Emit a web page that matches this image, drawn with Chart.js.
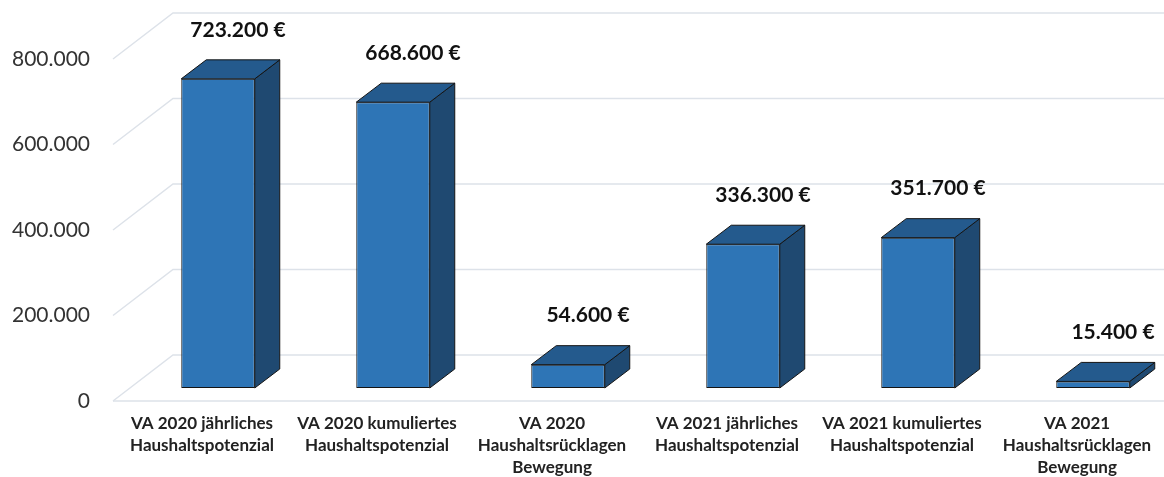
<!DOCTYPE html>
<html lang="de">
<head>
  <meta charset="UTF-8">
  <title>Haushaltspotenzial</title>
  <script src="https://cdn.jsdelivr.net/npm/chart.js"></script>
  <style>
    * { box-sizing: border-box; }
    body { margin: 0; padding: 0; background: #ffffff; }
    #wrap { width: 1164px; height: 477px; }
  </style>
</head>
<body>
  <div id="wrap"><canvas id="chart" width="1164" height="477"></canvas></div>

  <script>
    // Daten
    const kategorien = [
      ['VA 2020 jährliches', 'Haushaltspotenzial'],
      ['VA 2020 kumuliertes', 'Haushaltspotenzial'],
      ['VA 2020', 'Haushaltsrücklagen', 'Bewegung'],
      ['VA 2021 jährliches', 'Haushaltspotenzial'],
      ['VA 2021 kumuliertes', 'Haushaltspotenzial'],
      ['VA 2021', 'Haushaltsrücklagen', 'Bewegung']
    ];
    const werte = [723200, 668600, 54600, 336300, 351700, 15400];
    const yTicks = [0, 200000, 400000, 600000, 800000];

    function tausender(n) {
      return String(n).replace(/\B(?=(\d{3})+(?!\d))/g, '.');
    }

    // 3D-Optik: Tiefe der Säulen und des Bodens
    const tiefe = { dx: 25, dy: -19 };
    const boden = { vorne: 13, hinten: -33, xVorne: 113, xHinten: 173 };
    const farben = { front: '#2e75b6', oben: '#245a8d', seite: '#1f4971', rand: '#141414', gitter: '#dde2e9' };

    const gitterPlugin = {
      id: 'gitter3d',
      beforeDatasetsDraw(chart) {
        const ctx = chart.ctx;
        const y = chart.scales.y;
        ctx.save();
        ctx.strokeStyle = farben.gitter;
        ctx.lineWidth = 1.5;
        yTicks.forEach(v => {
          const p = y.getPixelForValue(v);
          ctx.beginPath();
          ctx.moveTo(boden.xVorne, p + boden.vorne);
          ctx.lineTo(boden.xHinten, p + boden.hinten);
          ctx.lineTo(chart.width, p + boden.hinten);
          ctx.stroke();
          if (v === 0) {
            ctx.beginPath();
            ctx.moveTo(boden.xVorne, p + boden.vorne);
            ctx.lineTo(chart.width, p + boden.vorne);
            ctx.stroke();
          }
        });
        ctx.restore();
      },
      afterDatasetsDraw(chart) {
        const ctx = chart.ctx;
        const meta = chart.getDatasetMeta(0);
        ctx.save();
        ctx.lineWidth = 1;
        ctx.strokeStyle = farben.rand;
        ctx.lineJoin = 'round';
        meta.data.forEach((bar, i) => {
          const p = bar.getProps(['x', 'y', 'base', 'width'], true);
          const l = p.x - p.width / 2, r = p.x + p.width / 2;
          // Seite
          ctx.beginPath();
          ctx.moveTo(r, p.y);
          ctx.lineTo(r + tiefe.dx, p.y + tiefe.dy);
          ctx.lineTo(r + tiefe.dx, p.base + tiefe.dy);
          ctx.lineTo(r, p.base);
          ctx.closePath();
          ctx.fillStyle = farben.seite;
          ctx.fill();
          ctx.stroke();
          // Deckel
          ctx.beginPath();
          ctx.moveTo(l, p.y);
          ctx.lineTo(l + tiefe.dx, p.y + tiefe.dy);
          ctx.lineTo(r + tiefe.dx, p.y + tiefe.dy);
          ctx.lineTo(r, p.y);
          ctx.closePath();
          ctx.fillStyle = farben.oben;
          ctx.fill();
          ctx.stroke();
          // Wertbeschriftung
          ctx.fillStyle = '#111111';
          ctx.font = 'bold 21px Lato';
          ctx.textAlign = 'center';
          ctx.textBaseline = 'middle';
          ctx.fillText(tausender(werte[i]) + ' €', p.x + 20, p.y - 49);
        });
        ctx.restore();
      }
    };

    new Chart(document.getElementById('chart'), {
      type: 'bar',
      data: {
        labels: kategorien,
        datasets: [{
          data: werte,
          backgroundColor: farben.front,
          borderColor: farben.rand,
          borderWidth: 1,
          borderSkipped: false,
          barPercentage: 0.42,
          categoryPercentage: 1,
          clip: false
        }]
      },
      options: {
        responsive: false,
        animation: false,
        events: [],
        layout: { padding: { top: 46, right: 71, bottom: 0, left: 0 } },
        plugins: { legend: { display: false }, tooltip: { enabled: false } },
        scales: {
          x: {
            offset: false,
            grid: { display: false, drawTicks: false },
            border: { display: false },
            ticks: {
              autoSkip: false,
              maxRotation: 0,
              labelOffset: -16,
              padding: 24,
              color: '#222222',
              font: { family: 'Lato', size: 17, weight: 'bold', lineHeight: 1.3 }
            },
            afterFit(s) { s.height = 89; s.paddingLeft = 0; s.paddingRight = 0; }
          },
          y: {
            min: 0,
            max: 800000,
            grid: { display: false, drawTicks: false },
            border: { display: false },
            afterBuildTicks(s) { s.ticks = yTicks.map(v => ({ value: v })); },
            ticks: {
              labelOffset: 13,
              padding: 128,
              color: '#333333',
              font: { family: 'Lato', size: 21 },
              callback: v => tausender(v)
            },
            afterFit(s) { s.width = 218; s.paddingTop = 0; s.paddingBottom = 0; }
          }
        }
      },
      plugins: [gitterPlugin]
    });
  </script>
</body>
</html>
